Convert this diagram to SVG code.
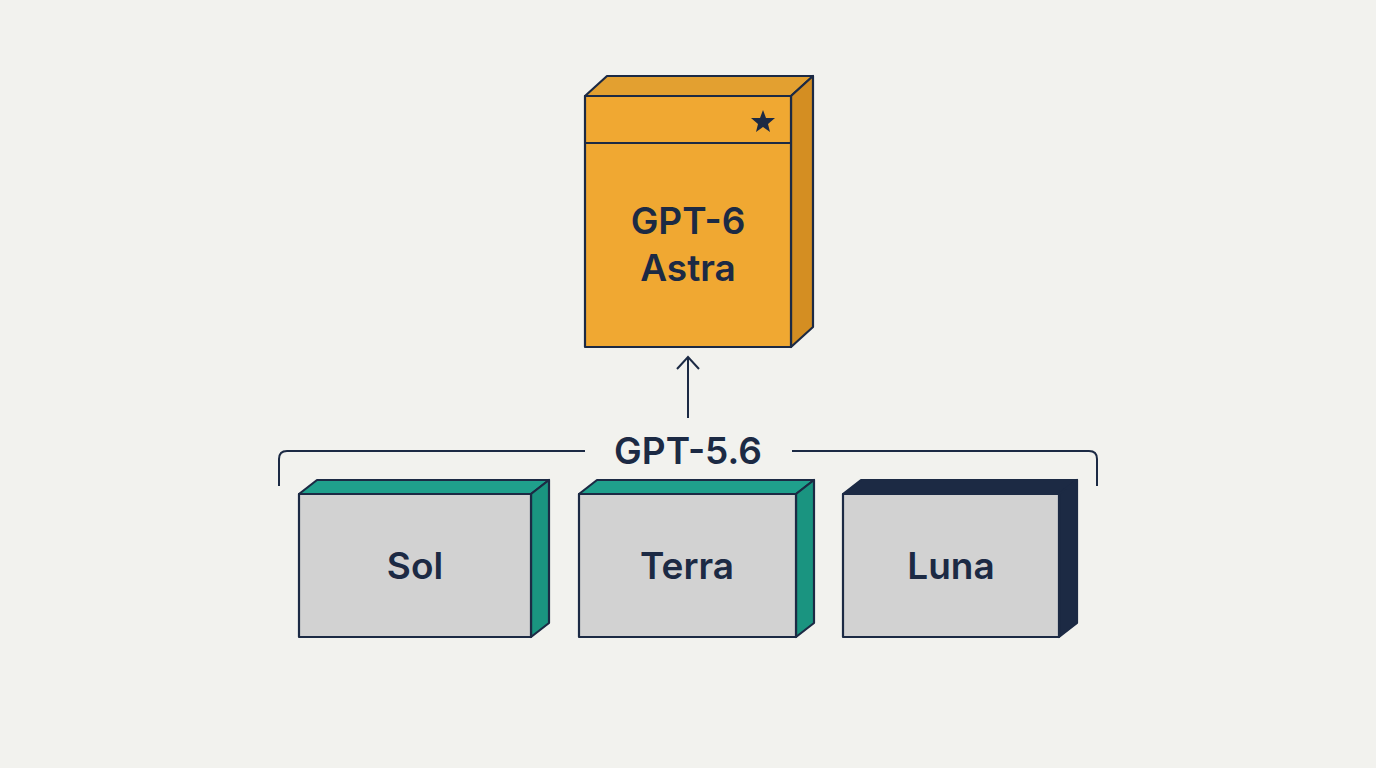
<svg xmlns="http://www.w3.org/2000/svg" width="1376" height="768" viewBox="0 0 1376 768">
<style>
.o{stroke:#1c2a44;stroke-width:2.2;stroke-linejoin:round}
.t{font-family:Inter,"Liberation Sans",sans-serif;font-weight:600;fill:#1c2a44;text-anchor:middle}
.f{fill:#d2d2d2}
</style>
<rect width="1376" height="768" fill="#f2f2ee"/>
<g id="connectors" fill="none" stroke="#1c2a44" stroke-width="2">
<path d="M279 486 V459 Q279 451 287 451 H585"/>
<path d="M792 451 H1089 Q1097 451 1097 459 V486"/>
<path d="M688 418 V357 M677 369 L688 357 L699 369"/>
</g>
<g id="astra">
<path class="o" d="M585 96 L607 76 H813 L791 96 Z" fill="#e3a030"/>
<path class="o" d="M791 96 L813 76 V327 L791 347 Z" fill="#d48e22"/>
<rect class="o" x="585" y="96" width="206" height="251" fill="#f0a832"/>
<line class="o" x1="585" y1="143" x2="791" y2="143"/>
<path d="M763 110 L766 118 L775 118 L768 124 L770 132 L763 127 L756 132 L758 124 L751 118 L760 118 Z" fill="#1c2a44"/>
<text class="t" x="688" y="234" font-size="37">GPT-6</text>
<text class="t" x="688" y="281" font-size="37">Astra</text>
</g>
<text id="group-label" class="t" x="688" y="464" font-size="37">GPT-5.6</text>
<g id="sol">
<path class="o" d="M299 494 L317 480 H549 L531 494 Z" fill="#1fa08c"/>
<path class="o" d="M531 494 L549 480 V623 L531 637 Z" fill="#1a9480"/>
<rect class="o f" x="299" y="494" width="232" height="143"/>
<text class="t" x="415" y="579" font-size="37">Sol</text>
</g>
<g id="terra">
<path class="o" d="M579 494 L597 480 H814 L796 494 Z" fill="#1fa08c"/>
<path class="o" d="M796 494 L814 480 V623 L796 637 Z" fill="#1a9480"/>
<rect class="o f" x="579" y="494" width="217" height="143"/>
<text class="t" x="687" y="579" font-size="37">Terra</text>
</g>
<g id="luna">
<path class="o" d="M843 494 L861 480 H1077 L1059 494 Z" fill="#1c2a44"/>
<path class="o" d="M1059 494 L1077 480 V623 L1059 637 Z" fill="#1c2a44"/>
<rect class="o f" x="843" y="494" width="216" height="143"/>
<text class="t" x="951" y="579" font-size="37">Luna</text>
</g>
</svg>
